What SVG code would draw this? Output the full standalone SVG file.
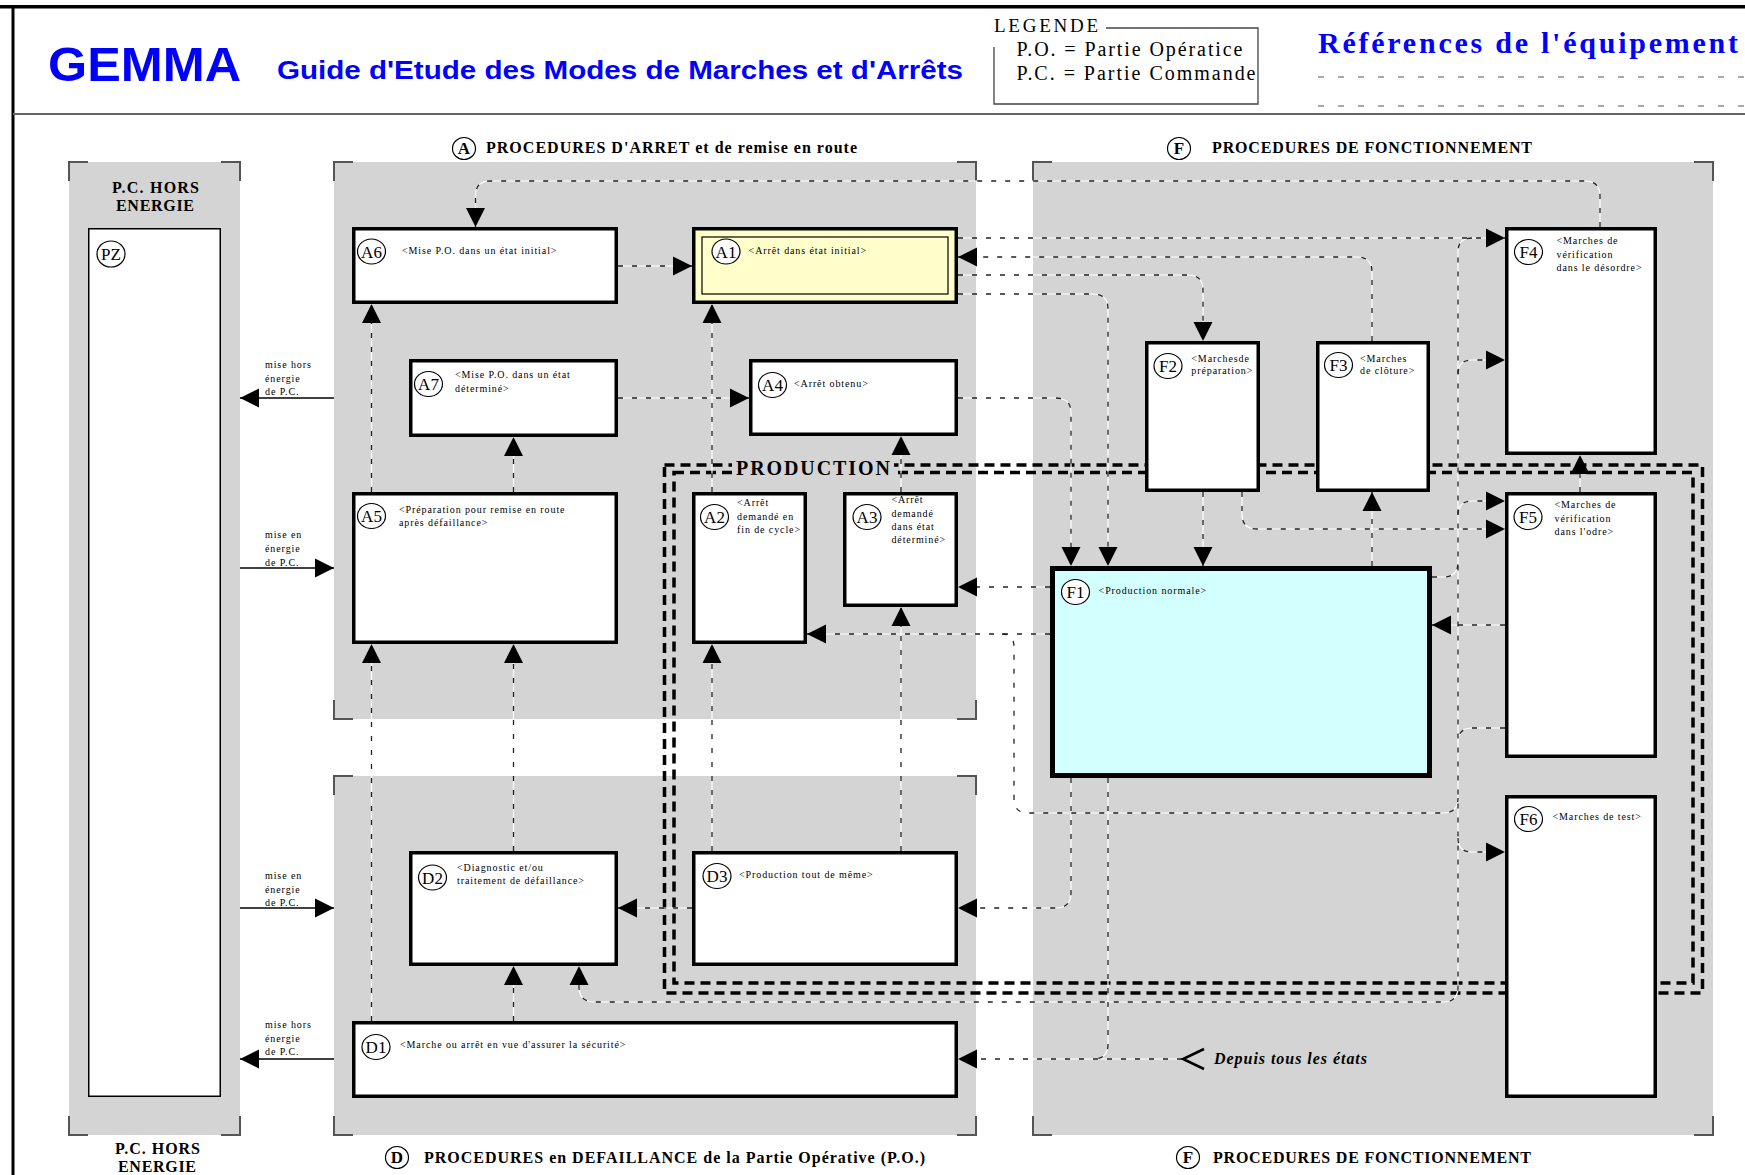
<svg xmlns="http://www.w3.org/2000/svg" xmlns:xlink="http://www.w3.org/1999/xlink" width="1745" height="1175" viewBox="0 0 1745 1175">
<style>
  .panel { fill:#d4d4d4; }
  .brk { fill:none; stroke:#555; stroke-width:2; }
  .node { fill:#fff; stroke:#000; stroke-width:3.5; }
  .serif { font-family:"Liberation Serif","Times New Roman",serif; }
  .lbl { font-family:"Liberation Serif","Times New Roman",serif; font-size:10px; letter-spacing:0.9px; fill:#000; }
  .tag { fill:#fff; stroke:#000; stroke-width:1.2; }
  .tagt { font-family:"Liberation Serif","Times New Roman",serif; font-size:17px; text-anchor:middle; fill:#000; }
  .title { font-family:"Liberation Serif","Times New Roman",serif; font-size:16px; font-weight:bold; fill:#000; }
  .wl { fill:none; stroke:#fff; stroke-width:1.2; }
  .dl { fill:none; stroke:#222; stroke-width:1.3; stroke-dasharray:5 9; }
  .sol { fill:none; stroke:#000; stroke-width:1.5; }
  .prod { fill:none; stroke:#000; stroke-width:3.5; stroke-dasharray:10 6; }
</style>
<defs>
  <marker id="ah" markerUnits="userSpaceOnUse" viewBox="0 0 20 20" markerWidth="20" markerHeight="20" refX="19" refY="10" orient="auto">
    <path d="M0,0.5 L19,10 L0,19.5 z" fill="#000"/>
  </marker>
  <!-- connector geometry, drawn twice: white base + dark dashes -->
  <path id="c1" d="M618,266 H692"/>
  <path id="c2" d="M371.5,492 V304"/>
  <path id="c3" d="M513.5,492 V437"/>
  <path id="c4" d="M618,398 H749"/>
  <path id="c5" d="M712,492 V304"/>
  <path id="c6" d="M901,492 V436"/>
  <path id="c7" d="M712,851 V644"/>
  <path id="c8" d="M901,851 V607"/>
  <path id="c9" d="M371.5,1021 V644"/>
  <path id="c10" d="M513.5,851 V644"/>
  <path id="c11" d="M513.5,1021 V966"/>
  <path id="c12" d="M692,908 H618"/>
  <path id="c13" d="M1050,587 H958"/>
  <path id="c14" d="M1050,634 H807"/>
  <path id="c15" d="M1002,634 Q1014,634 1014,647 V799 Q1014,813 1028,813 H1443 Q1458,813 1458,798"/>
  <path id="c16" d="M1600,227 V196 Q1600,181 1585,181 H490 Q475.5,181 475.5,196 V227"/>
  <path id="c17" d="M958,238 H1505"/>
  <path id="c18" d="M1372,341 V272 Q1372,257 1357,257 H958"/>
  <path id="c19" d="M958,275 H1188 Q1203,275 1203,290 V341"/>
  <path id="c20" d="M958,294 H1093 Q1108,294 1108,309 V566"/>
  <path id="c21" d="M958,398 H1056 Q1071,398 1071,413 V566"/>
  <path id="c22" d="M1071,778 V893 Q1071,908 1056,908 H958"/>
  <path id="c23" d="M1108,778 V1044 Q1108,1059 1093,1059"/>
  <path id="c24" d="M1182,1059 H958"/>
  <path id="c25" d="M1203,492 V566"/>
  <path id="c26" d="M1372,566 V492"/>
  <path id="c27" d="M1580,492 V455"/>
  <path id="c28" d="M1505,625 H1432"/>
  <path id="c29" d="M1242,492 V514 Q1242,529 1257,529 H1505"/>
  <path id="c30" d="M1472,238 Q1458,238 1458,252 V987 Q1458,1002 1443,1002 H595 Q579,1002 579,987 V966"/>
  <path id="c31" d="M1458,374 Q1458,360 1472,360 H1505"/>
  <path id="c32" d="M1458,515 Q1458,501 1472,501 H1505"/>
  <path id="c33" d="M1458,838 Q1458,852 1472,852 H1505"/>
  <path id="c34" d="M1432,577 H1443 Q1458,577 1458,562"/>
  <path id="c35" d="M1505,728 H1472 Q1458,728 1458,742"/>
</defs>

<rect width="1745" height="1175" fill="#fff"/>

<!-- page frame and header -->
<g id="frame">
  <line x1="0" y1="6.8" x2="1745" y2="6.8" stroke="#000" stroke-width="3.5"/>
  <line x1="13" y1="5" x2="13" y2="1175" stroke="#000" stroke-width="3"/>
  <line x1="13" y1="114" x2="1745" y2="114" stroke="#666" stroke-width="2"/>
</g>
<g id="header">
  <text x="48" y="81" font-family="'Liberation Sans',Arial,sans-serif" font-weight="bold" font-size="48" fill="#0000ff" textLength="193" lengthAdjust="spacingAndGlyphs">GEMMA</text>
  <text x="277" y="79" font-family="'Liberation Sans',Arial,sans-serif" font-weight="bold" font-size="25" fill="#0000ff" textLength="686" lengthAdjust="spacingAndGlyphs">Guide d'Etude des Modes de Marches et d'Arrêts</text>
  <g id="legende">
    <path d="M1106,28 H1258 V104 H994 V47" fill="none" stroke="#444" stroke-width="1.3"/>
    <text class="serif" x="994" y="32" font-size="19" textLength="104">LEGENDE</text>
    <text class="serif" x="1016.5" y="56" font-size="20" textLength="226">P.O. = Partie Opératice</text>
    <text class="serif" x="1016.5" y="80" font-size="20" textLength="239">P.C. = Partie Commande</text>
  </g>
  <text class="serif" x="1318" y="53" font-size="30" font-weight="bold" fill="#0000ff" textLength="420">Références de l'équipement</text>
  <line x1="1318" y1="77" x2="1745" y2="77" stroke="#555" stroke-width="1" stroke-dasharray="6 14"/>
  <line x1="1318" y1="106" x2="1745" y2="106" stroke="#555" stroke-width="1" stroke-dasharray="6 14"/>
</g>

<!-- grey zones with corner brackets -->
<g id="zones">
  <rect class="panel" x="69" y="162" width="171" height="973"/>
  <rect class="panel" x="334" y="162" width="642" height="557"/>
  <rect class="panel" x="334" y="776" width="642" height="359"/>
  <rect class="panel" x="1033" y="162" width="680" height="973"/>
  <path class="brk" d="M69,181 V162 H88 M221,162 H240 V181 M69,1116 V1135 H88 M221,1135 H240 V1116"/>
  <path class="brk" d="M334,181 V162 H353 M957,162 H976 V181 M334,700 V719 H353 M957,719 H976 V700"/>
  <path class="brk" d="M334,795 V776 H353 M957,776 H976 V795 M334,1116 V1135 H353 M957,1135 H976 V1116"/>
  <path class="brk" d="M1033,181 V162 H1052 M1694,162 H1713 V181 M1033,1116 V1135 H1052 M1694,1135 H1713 V1116"/>
</g>

<!-- zone titles -->
<g id="titles">
  <ellipse class="tag" cx="464" cy="148.5" rx="11.5" ry="11"/>
  <text class="tagt" x="464" y="154" font-size="14" font-weight="bold">A</text>
  <text class="title" x="486" y="153" textLength="371">PROCEDURES D'ARRET et de remise en route</text>
  <ellipse class="tag" cx="1179" cy="148.5" rx="11.5" ry="11"/>
  <text class="tagt" x="1179" y="154" font-size="14" font-weight="bold">F</text>
  <text class="title" x="1212" y="153" textLength="320">PROCEDURES DE FONCTIONNEMENT</text>
  <ellipse class="tag" cx="397" cy="1157.5" rx="11.5" ry="11"/>
  <text class="tagt" x="397" y="1163" font-size="14" font-weight="bold">D</text>
  <text class="title" x="424" y="1163" textLength="501">PROCEDURES en DEFAILLANCE de la Partie Opérative (P.O.)</text>
  <ellipse class="tag" cx="1188" cy="1157.5" rx="11.5" ry="11"/>
  <text class="tagt" x="1188" y="1163" font-size="14" font-weight="bold">F</text>
  <text class="title" x="1213" y="1163" textLength="318">PROCEDURES DE FONCTIONNEMENT</text>
  <text class="title" x="112" y="192.5" textLength="87">P.C. HORS</text>
  <text class="title" x="116" y="210.5" textLength="78">ENERGIE</text>
  <text class="title" x="115" y="1154" textLength="85">P.C. HORS</text>
  <text class="title" x="118" y="1172" textLength="78">ENERGIE</text>
</g>

<!-- PRODUCTION double frame -->
<g id="production">
  <rect class="prod" x="664.5" y="465" width="1038" height="528"/>
  <rect class="prod" x="674" y="472.5" width="1019" height="510.5"/>
  <rect x="732" y="457" width="162" height="21" fill="#d4d4d4"/>
  <text class="serif" x="736" y="475" font-size="20" font-weight="bold" textLength="154">PRODUCTION</text>
</g>

<!-- states -->
<g id="PZ">
  <rect x="88.75" y="228.75" width="131.5" height="867.5" fill="#fff" stroke="#000" stroke-width="1.5"/>
  <ellipse class="tag" cx="111" cy="254" rx="14" ry="13"/><text class="tagt" x="111" y="260">PZ</text>
</g>
<g id="A6">
  <rect class="node" x="353.75" y="228.75" width="262.5" height="73.5"/>
  <ellipse class="tag" cx="371.5" cy="251.5" rx="14" ry="12.5"/><text class="tagt" x="371.5" y="257.5">A6</text>
  <text class="lbl" x="402" y="254">&lt;Mise P.O. dans un état initial&gt;</text>
</g>
<g id="A7">
  <rect class="node" x="410.75" y="360.75" width="205.5" height="74.5"/>
  <ellipse class="tag" cx="428.5" cy="384" rx="14" ry="12.5"/><text class="tagt" x="428.5" y="390">A7</text>
  <text class="lbl" x="455" y="378.3">&lt;Mise P.O. dans un état</text>
  <text class="lbl" x="455" y="391.7">déterminé&gt;</text>
</g>
<g id="A5">
  <rect class="node" x="353.75" y="493.75" width="262.5" height="148.5"/>
  <ellipse class="tag" cx="371.5" cy="516" rx="14" ry="12.5"/><text class="tagt" x="371.5" y="522">A5</text>
  <text class="lbl" x="399" y="512.7">&lt;Préparation pour remise en route</text>
  <text class="lbl" x="399" y="526">après défaillance&gt;</text>
</g>
<g id="A1">
  <rect class="node" x="693.75" y="228.75" width="262.5" height="73.5" style="fill:#ffffcc"/>
  <rect x="702" y="237" width="246" height="57" fill="none" stroke="#000" stroke-width="1.2"/>
  <ellipse class="tag" cx="726" cy="251.5" rx="14" ry="12.5"/><text class="tagt" x="726" y="257.5">A1</text>
  <text class="lbl" x="748.6" y="254.3">&lt;Arrêt dans état initial&gt;</text>
</g>
<g id="A4">
  <rect class="node" x="750.75" y="360.75" width="205.5" height="73.5"/>
  <ellipse class="tag" cx="772.5" cy="385" rx="14" ry="12.5"/><text class="tagt" x="772.5" y="391">A4</text>
  <text class="lbl" x="794" y="386.7">&lt;Arrêt obtenu&gt;</text>
</g>
<g id="A2">
  <rect class="node" x="693.75" y="493.75" width="111.5" height="148.5"/>
  <ellipse class="tag" cx="714.5" cy="517" rx="14" ry="12.5"/><text class="tagt" x="714.5" y="523">A2</text>
  <text class="lbl" x="737" y="506">&lt;Arrêt</text>
  <text class="lbl" x="737" y="519.5">demandé en</text>
  <text class="lbl" x="737" y="533">fin de cycle&gt;</text>
</g>
<g id="A3">
  <rect class="node" x="844.75" y="493.75" width="111.5" height="111.5"/>
  <ellipse class="tag" cx="867" cy="517" rx="14" ry="12.5"/><text class="tagt" x="867" y="523">A3</text>
  <text class="lbl" x="891.4" y="503.3">&lt;Arrêt</text>
  <text class="lbl" x="891.4" y="516.7">demandé</text>
  <text class="lbl" x="891.4" y="530">dans état</text>
  <text class="lbl" x="891.4" y="543.3">déterminé&gt;</text>
</g>
<g id="D2">
  <rect class="node" x="410.75" y="852.75" width="205.5" height="111.5"/>
  <ellipse class="tag" cx="432.5" cy="877.5" rx="14" ry="12.5"/><text class="tagt" x="432.5" y="883.5">D2</text>
  <text class="lbl" x="457" y="870.7">&lt;Diagnostic et/ou</text>
  <text class="lbl" x="457" y="884.3">traitement de défaillance&gt;</text>
</g>
<g id="D3">
  <rect class="node" x="693.75" y="852.75" width="262.5" height="111.5"/>
  <ellipse class="tag" cx="717" cy="876" rx="14" ry="12.5"/><text class="tagt" x="717" y="882">D3</text>
  <text class="lbl" x="739" y="878.3">&lt;Production tout de même&gt;</text>
</g>
<g id="D1">
  <rect class="node" x="353.75" y="1022.75" width="602.5" height="73.5"/>
  <ellipse class="tag" cx="376" cy="1047" rx="14" ry="12.5"/><text class="tagt" x="376" y="1053">D1</text>
  <text class="lbl" x="400" y="1048.3">&lt;Marche ou arrêt en vue d'assurer la sécurité&gt;</text>
</g>
<g id="F1">
  <rect x="1052.5" y="568.5" width="377" height="207" fill="#d2ffff" stroke="#000" stroke-width="5"/>
  <ellipse class="tag" cx="1075.5" cy="592" rx="14" ry="12.5"/><text class="tagt" x="1075.5" y="598">F1</text>
  <text class="lbl" x="1098.6" y="594">&lt;Production normale&gt;</text>
</g>
<g id="F2">
  <rect class="node" x="1146.75" y="342.75" width="111.5" height="147.5"/>
  <ellipse class="tag" cx="1168" cy="366" rx="14" ry="12.5"/><text class="tagt" x="1168" y="372">F2</text>
  <text class="lbl" x="1191.3" y="361.7">&lt;Marchesde</text>
  <text class="lbl" x="1191.3" y="374.3">préparation&gt;</text>
</g>
<g id="F3">
  <rect class="node" x="1317.75" y="342.75" width="110.5" height="147.5"/>
  <ellipse class="tag" cx="1338.5" cy="365" rx="14" ry="12.5"/><text class="tagt" x="1338.5" y="371">F3</text>
  <text class="lbl" x="1360" y="361.7">&lt;Marches</text>
  <text class="lbl" x="1360" y="374.3">de clôture&gt;</text>
</g>
<g id="F4">
  <rect class="node" x="1506.75" y="228.75" width="148.5" height="224.5"/>
  <ellipse class="tag" cx="1528.5" cy="252" rx="14" ry="12.5"/><text class="tagt" x="1528.5" y="258">F4</text>
  <text class="lbl" x="1556.5" y="244.3">&lt;Marches de</text>
  <text class="lbl" x="1556.5" y="257.7">vérification</text>
  <text class="lbl" x="1556.5" y="270.7">dans le désordre&gt;</text>
</g>
<g id="F5">
  <rect class="node" x="1506.75" y="493.75" width="148.5" height="262.5"/>
  <ellipse class="tag" cx="1528" cy="517" rx="14" ry="12.5"/><text class="tagt" x="1528" y="523">F5</text>
  <text class="lbl" x="1554.5" y="508.3">&lt;Marches de</text>
  <text class="lbl" x="1554.5" y="521.7">vérification</text>
  <text class="lbl" x="1554.5" y="535">dans l'odre&gt;</text>
</g>
<g id="F6">
  <rect class="node" x="1506.75" y="796.75" width="148.5" height="299.5"/>
  <ellipse class="tag" cx="1528.5" cy="819" rx="14" ry="12.5"/><text class="tagt" x="1528.5" y="825">F6</text>
  <text class="lbl" x="1552.5" y="820">&lt;Marches de test&gt;</text>
</g>

<!-- transitions -->
<g id="connectors">
  <g class="wl">
    <use xlink:href="#c1"/><use xlink:href="#c2"/><use xlink:href="#c3"/><use xlink:href="#c4"/>
    <use xlink:href="#c5"/><use xlink:href="#c6"/><use xlink:href="#c7"/><use xlink:href="#c8"/>
    <use xlink:href="#c9"/><use xlink:href="#c10"/><use xlink:href="#c11"/><use xlink:href="#c12"/>
    <use xlink:href="#c13"/><use xlink:href="#c14"/><use xlink:href="#c15"/><use xlink:href="#c16"/>
    <use xlink:href="#c17"/><use xlink:href="#c18"/><use xlink:href="#c19"/><use xlink:href="#c20"/>
    <use xlink:href="#c21"/><use xlink:href="#c22"/><use xlink:href="#c23"/><use xlink:href="#c24"/>
    <use xlink:href="#c25"/><use xlink:href="#c26"/><use xlink:href="#c27"/><use xlink:href="#c28"/>
    <use xlink:href="#c29"/><use xlink:href="#c30"/><use xlink:href="#c31"/><use xlink:href="#c32"/>
    <use xlink:href="#c33"/><use xlink:href="#c34"/><use xlink:href="#c35"/>
  </g>
  <g class="dl">
    <use xlink:href="#c15"/><use xlink:href="#c23"/><use xlink:href="#c34"/><use xlink:href="#c35"/>
  </g>
  <g class="dl" marker-end="url(#ah)">
    <use xlink:href="#c1"/><use xlink:href="#c2"/><use xlink:href="#c3"/><use xlink:href="#c4"/>
    <use xlink:href="#c5"/><use xlink:href="#c6"/><use xlink:href="#c7"/><use xlink:href="#c8"/>
    <use xlink:href="#c9"/><use xlink:href="#c10"/><use xlink:href="#c11"/><use xlink:href="#c12"/>
    <use xlink:href="#c13"/><use xlink:href="#c14"/><use xlink:href="#c16"/>
    <use xlink:href="#c17"/><use xlink:href="#c18"/><use xlink:href="#c19"/><use xlink:href="#c20"/>
    <use xlink:href="#c21"/><use xlink:href="#c22"/><use xlink:href="#c24"/>
    <use xlink:href="#c25"/><use xlink:href="#c26"/><use xlink:href="#c27"/><use xlink:href="#c28"/>
    <use xlink:href="#c29"/><use xlink:href="#c30"/><use xlink:href="#c31"/><use xlink:href="#c32"/>
    <use xlink:href="#c33"/>
  </g>
  <!-- power-off / power-on transitions to PZ -->
  <g class="sol" marker-end="url(#ah)">
    <path d="M334,398 H240"/>
    <path d="M240,568 H334"/>
    <path d="M240,908 H334"/>
    <path d="M334,1059 H240"/>
  </g>
  <g class="lbl">
    <text x="265" y="368.3">mise hors</text><text x="265" y="381.7">énergie</text><text x="265" y="395">de P.C.</text>
    <text x="265" y="538.3">mise en</text><text x="265" y="552">énergie</text><text x="265" y="565.5">de P.C.</text>
    <text x="265" y="879.3">mise en</text><text x="265" y="892.7">énergie</text><text x="265" y="905.7">de P.C.</text>
    <text x="265" y="1028.3">mise hors</text><text x="265" y="1041.7">énergie</text><text x="265" y="1055">de P.C.</text>
  </g>
  <path d="M1204,1049 L1183,1059 L1204,1069" fill="none" stroke="#000" stroke-width="2.5"/>
  <text class="serif" x="1214" y="1063.5" font-size="16" font-weight="bold" font-style="italic" textLength="153">Depuis tous les états</text>
</g>
</svg>
